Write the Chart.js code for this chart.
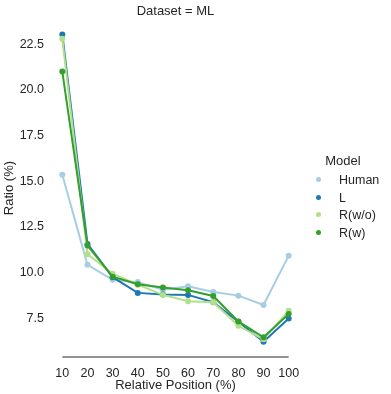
<!DOCTYPE html>
<html>
<head>
<meta charset="utf-8">
<script src="https://cdn.jsdelivr.net/npm/chart.js@4.4.1/dist/chart.umd.min.js"></script>
<style>
  html, body { margin: 0; padding: 0; background: #fff; }
  #wrap { position: relative; width: 391px; height: 394px; }
  #legend { position: absolute; left: 312px; top: 153px; font-family: "Liberation Sans", Arial, sans-serif; color: #262626; }
  #legend .title { font-size: 13px; text-align: center; width: 62px; margin-bottom: 4px; }
  #legend .item { height: 17.5px; line-height: 17.5px; font-size: 12.5px; white-space: nowrap; }
  #legend .dot { display: inline-block; width: 5px; height: 5px; border-radius: 50%; margin: 0 18px 0 4px; vertical-align: middle; position: relative; top: -1px; }
</style>
</head>
<body>
<div id="wrap">
  <canvas id="myChart" width="391" height="394"></canvas>
  <div id="legend"></div>
</div>
<script>
// relative position (%) on the x axis
const positions = [10, 20, 30, 40, 50, 60, 70, 80, 90, 100];
const xTicks = [10, 20, 30, 40, 50, 60, 70, 80, 90, 100];
const yTicks = [7.5, 10.0, 12.5, 15.0, 17.5, 20.0, 22.5];

// ratio (%) per model
const human = [15.35, 10.42, 9.6, 9.47, 9.05, 9.24, 8.93, 8.73, 8.22, 10.92];
const modelL = [23.03, 11.56, 9.74, 8.88, 8.79, 8.77, 8.37, 7.3, 6.21, 7.48];
const rWithout = [22.79, 11.0, 9.93, 9.33, 8.77, 8.42, 8.37, 7.08, 6.34, 7.9];
const rWith = [21.0, 11.47, 9.77, 9.35, 9.17, 9.02, 8.71, 7.32, 6.45, 7.72];

const FONT = "'Liberation Sans', Arial, sans-serif";

function pts(values) {
    return positions.map((x, i) => ({ x: x, y: values[i] }));
}

function series(label, values, color, order) {
    return {
        label: label,
        data: pts(values),
        borderColor: color,
        backgroundColor: color,
        borderWidth: 2,
        pointRadius: 3,
        pointBorderWidth: 0,
        pointHoverRadius: 3,
        tension: 0,
        order: order
    };
}

// trimmed bottom spine, from 10 to 100 only
const bottomSpine = {
    id: 'bottomSpine',
    afterDraw(chart) {
        const xs = chart.scales.x;
        const y = chart.chartArea.bottom;
        const ctx = chart.ctx;
        ctx.save();
        ctx.strokeStyle = '#262626';
        ctx.lineWidth = 1.2;
        ctx.beginPath();
        ctx.moveTo(xs.getPixelForValue(xTicks[0]), y);
        ctx.lineTo(xs.getPixelForValue(xTicks[xTicks.length - 1]), y);
        ctx.stroke();
        ctx.restore();
    }
};

const ctx = document.getElementById('myChart').getContext('2d');
const chart = new Chart(ctx, {
    type: 'line',
    data: {
        datasets: [
            series('Human', human, '#a6cee3', 3),
            series('L', modelL, '#1f78b4', 2),
            series('R(w/o)', rWithout, '#b2df8a', 1),
            series('R(w)', rWith, '#33a02c', 0)
        ]
    },
    options: {
        responsive: false,
        animation: false,
        layout: { padding: { left: 2, right: 91, top: 0, bottom: 1 } },
        plugins: {
            legend: { display: false },
            tooltip: { enabled: false },
            title: {
                display: true,
                fullSize: false,
                text: 'Dataset = ML',
                color: '#262626',
                font: { family: FONT, size: 13, weight: 'normal' },
                padding: { top: 3.5, bottom: 0 }
            }
        },
        scales: {
            x: {
                type: 'linear',
                min: 5.5,
                max: 104.5,
                afterBuildTicks: (axis) => { axis.ticks = xTicks.map(v => ({ value: v })); },
                afterFit: (scale) => { scale.height = 36; },
                grid: { display: false, drawTicks: false },
                border: { display: false },
                ticks: { color: '#262626', padding: 9, minRotation: 0, maxRotation: 0, autoSkip: false, font: { family: FONT, size: 12.5 } },
                title: {
                    display: true,
                    text: 'Relative Position (%)',
                    color: '#262626',
                    font: { family: FONT, size: 13 },
                    padding: { top: 0, bottom: 0 }
                }
            },
            y: {
                min: 5.37,
                max: 23.87,
                afterBuildTicks: (axis) => { axis.ticks = yTicks.map(v => ({ value: v })); },
                afterFit: (scale) => { scale.width = 49; },
                grid: { display: false, drawTicks: false },
                border: { display: false },
                ticks: {
                    color: '#262626',
                    padding: 7,
                    font: { family: FONT, size: 12.5 },
                    callback: (v) => Number(v).toFixed(1)
                },
                title: {
                    display: true,
                    text: 'Ratio (%)',
                    color: '#262626',
                    font: { family: FONT, size: 13 },
                    padding: { top: 0, bottom: 4 }
                }
            }
        }
    },
    plugins: [bottomSpine]
});

// legend built from the chart's datasets
const legend = document.getElementById('legend');
legend.innerHTML = '<div class="title">Model</div>' + chart.data.datasets.map(ds =>
    '<div class="item"><span class="dot" style="background:' + ds.borderColor + '"></span>' + ds.label + '</div>'
).join('');
</script>
</body>
</html>
